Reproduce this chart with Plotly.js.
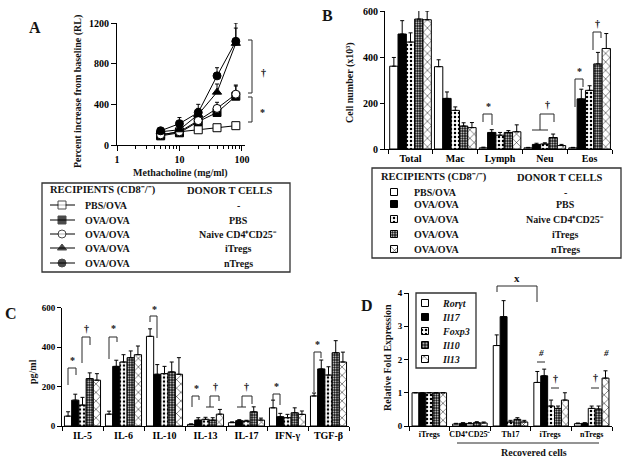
<!DOCTYPE html>
<html><head><meta charset="utf-8">
<script src="https://cdn.plot.ly/plotly-3.0.1.min.js"></script>
<style>body{margin:0;background:#fff}#c{width:629px;height:463px}</style>
</head><body><div id="c"></div><script>
const F='Liberation Serif';
// ---------- Panel A data ----------
const doses=[5,10,20,40,80];
const aPBS=[100,130,150,170,190], aPBSe=[15,15,15,15,25];
const aOVA=[90,120,230,320,480], aOVAe=[10,15,30,40,100];
const aNaive=[100,130,240,360,500], aNaiveE=[10,15,40,60,90];
const aITreg=[130,150,300,520,1000], aITregE=[15,20,60,80,150];
const aNTreg=[140,210,320,680,1020], aNTregE=[20,60,80,80,180];
const recipients=['PBS/OVA','OVA/OVA','OVA/OVA','OVA/OVA','OVA/OVA'];
const donors=['-','PBS','Naive CD4⁺CD25⁻','iTregs','nTregs'];
// ---------- Panel B data ----------
const bCats=['Total','Mac','Lymph','Neu','Eos'];
const bPBS=[360,358,5,5,5], bPBSe=[38,30,3,2,2];
const bOVA=[500,220,72,20,218], bOVAe=[58,28,12,5,42];
const bNaive=[465,168,60,22,255], bNaiveE=[40,15,12,5,20];
const bITreg=[565,100,72,50,370], bITregE=[40,14,8,15,50];
const bNTreg=[562,93,75,15,437], bNTregE=[38,22,30,5,65];
// ---------- Panel C data ----------
const cCats=['IL-5','IL-6','IL-10','IL-13','IL-17','IFN-γ','TGF-β'];
const cPBS=[50,60,454,8,17,92,152], cPBSe=[22,15,38,3,4,39,15];
const cOVA=[131,302,262,30,27,47,289], cOVAe=[30,31,49,12,5,17,45];
const cNaive=[106,324,265,34,25,42,258], cNaiveE=[39,37,37,10,4,17,42];
const cITreg=[240,346,274,30,72,67,371], cITregE=[29,34,50,12,25,25,61];
const cNTreg=[232,361,262,60,30,59,324], cNTregE=[33,44,84,24,10,17,50];
// ---------- Panel D data ----------
const dCats=['iTregs','CD4⁺CD25⁻','Th17','iTregs ','nTregs'];
const dGenes=['Rorγt','Il17','Foxp3','Il10','Il13'];
const dRor=[1,0.06,2.42,1.31,0.07], dRorE=[0,0.02,0.32,0.33,0.02];
const dIl17=[1,0.08,3.29,1.51,0.08], dIl17E=[0,0.02,0.48,0.2,0.02];
const dFoxp3=[1,0.07,0.12,0.6,0.53], dFoxp3E=[0,0.03,0.05,0.18,0.07];
const dIl10=[1,0.1,0.2,0.53,0.51], dIl10E=[0,0.03,0.05,0.07,0.09];
const dIl13=[1,0.09,0.12,0.78,1.44], dIl13E=[0,0.03,0.05,0.22,0.22];

const W=629,H=463;
const dx=(a,b)=>[a/W,b/W], dy=(a,b)=>[1-b/H,1-a/H];
const styles=[
 {color:'white'},
 {color:'black'},
 {color:'white',pattern:{shape:'.',fgcolor:'black',bgcolor:'white',size:4,solidity:0.3}},
 {color:'#111',pattern:{shape:'.',fgcolor:'white',bgcolor:'#111',size:2.5,solidity:0.3}},
 {color:'white',pattern:{shape:'x',fgcolor:'black',bgcolor:'white',size:6,solidity:0.15}}
];
const zeros=n=>Array(n).fill(0);
function bars(xa,ya,cats,series,errs,gw){
  const w=gw/5;
  return series.map((v,i)=>({type:'bar',x:cats,y:v,xaxis:xa,yaxis:ya,width:w,offset:-gw/2+i*w,
    marker:Object.assign({line:{color:'black',width:1}},styles[i]),
    error_y:{type:'data',symmetric:false,array:errs[i],arrayminus:zeros(v.length),color:'black',thickness:1,width:2},
    cliponaxis:false,hoverinfo:'skip',showlegend:false}));
}
const data=[];
// Panel A lines
const aSeries=[[aPBS,aPBSe,'square','white'],[aOVA,aOVAe,'square','black'],[aNaive,aNaiveE,'circle','white'],[aITreg,aITregE,'triangle-up','black'],[aNTreg,aNTregE,'circle','black']];
aSeries.forEach(s=>data.push({type:'scatter',mode:'lines+markers',x:doses,y:s[0],xaxis:'x',yaxis:'y',
  line:{color:'black',width:1},marker:{symbol:s[2],size:8,color:s[3],line:{color:'black',width:1}},
  error_y:{type:'data',symmetric:false,array:s[1],arrayminus:zeros(5),color:'black',thickness:1,width:2},
  cliponaxis:false,hoverinfo:'skip',showlegend:false}));
data.push(...bars('x2','y2',bCats,[bPBS,bOVA,bNaive,bITreg,bNTreg],[bPBSe,bOVAe,bNaiveE,bITregE,bNTregE],0.93));
data.push(...bars('x3','y3',cCats,[cPBS,cOVA,cNaive,cITreg,cNTreg],[cPBSe,cOVAe,cNaiveE,cITregE,cNTregE],0.88));
data.push(...bars('x4','y4',dCats,[dRor,dIl17,dFoxp3,dIl10,dIl13],[dRorE,dIl17E,dFoxp3E,dIl10E,dIl13E],0.85));

// legend swatches (layout decoration on a pixel overlay axis)
const aRows=[205,220,234,248,263], bRows=[192,204,219,234,249], dRows=[303,317,331,345,359];
aSeries.forEach((s,i)=>data.push({type:'scatter',mode:'lines+markers',x:[50,62,75],y:[aRows[i],aRows[i],aRows[i]],xaxis:'x5',yaxis:'y5',
  line:{color:'black',width:1},marker:{symbol:s[2],size:[0,8,0],color:s[3],line:{color:'black',width:1}},hoverinfo:'skip',showlegend:false,cliponaxis:false}));
function swatch(x,rows,sz){rows.forEach((r,i)=>data.push({type:'bar',x:[x],y:[sz],base:[r-sz/2],width:sz,xaxis:'x5',yaxis:'y5',
  marker:Object.assign({line:{color:'black',width:1}},styles[i]),hoverinfo:'skip',showlegend:false}));}
swatch(394,bRows,7); swatch(425,dRows,7);

const tf={family:F,size:10,color:'black',weight:'bold'};
const ax={showline:true,linecolor:'black',linewidth:1,ticks:'outside',ticklen:4,tickcolor:'black',showgrid:false,zeroline:false,tickfont:tf,fixedrange:true,tickangle:0};
const layout={width:W,height:H,margin:{l:0,r:0,t:0,b:0},paper_bgcolor:'white',plot_bgcolor:'rgba(0,0,0,0)',barmode:'overlay',showlegend:false,
 font:{family:F,color:'black'},
 xaxis:Object.assign({},ax,{type:'log',domain:dx(117,245),range:[0,2.05],dtick:1,anchor:'y',ticklen:5,minor:{ticks:'outside',ticklen:2.5,tickcolor:'black'}}),
 yaxis:Object.assign({},ax,{domain:dy(23,145),range:[0,1200],dtick:400,anchor:'x',ticklen:5}),
 xaxis2:Object.assign({},ax,{type:'category',domain:dx(385,612),range:[-0.57,4.5],anchor:'y2',tickson:'boundaries'}),
 yaxis2:Object.assign({},ax,{domain:dy(11,149),range:[0,600],dtick:200,anchor:'x2'}),
 xaxis3:Object.assign({},ax,{type:'category',domain:dx(62,349),range:[-0.5,6.5],anchor:'y3',tickson:'boundaries'}),
 yaxis3:Object.assign({},ax,{domain:dy(307.5,426),range:[0,600],dtick:200,anchor:'x3',tickfont:Object.assign({},tf,{size:9})}),
 xaxis4:Object.assign({},ax,{type:'category',domain:dx(409,612),range:[-0.5,4.5],anchor:'y4',tickson:'boundaries',tickfont:Object.assign({},tf,{size:8})}),
 yaxis4:Object.assign({},ax,{domain:dy(293,426),range:[0,4],dtick:1,anchor:'x4',tickfont:Object.assign({},tf,{size:9})}),
 xaxis5:{domain:[0,1],range:[0,W],visible:false,fixedrange:true,anchor:'y5'},
 yaxis5:{domain:[0,1],range:[H,0],visible:false,fixedrange:true,anchor:'x5'},
 shapes:[],annotations:[]
};
const L=layout.shapes, A=layout.annotations;
const path=(p)=>L.push({type:'path',xref:'x5',yref:'y5',path:p,line:{color:'rgb(40,40,40)',width:1}});
const rect=(x0,y0,x1,y1,fill)=>L.push({type:'rect',xref:'x5',yref:'y5',x0,y0,x1,y1,line:{color:'rgb(50,50,50)',width:1.3},fillcolor:fill||'rgba(255,255,255,0)',layer:'below'});
const t=(x,y,text,o={})=>A.push({xref:'x5',yref:'y5',x,y,text,showarrow:false,xanchor:o.xanchor||'center',yanchor:'middle',
  textangle:o.angle||0,font:{family:F,size:o.size||10,color:'rgb(20,20,20)',weight:'bold',style:o.style||'normal'}});
// panel letters
t(35,27,'A',{size:16}); t(327,15,'B',{size:16}); t(11,313,'C',{size:16}); t(367,305,'D',{size:16});
// axis titles
t(78,92,'Percent increase from baseline (RL)',{angle:-90});
t(180,173,'Methacholine (mg/ml)');
t(350,83,'Cell number (x10³)',{angle:-90});
t(32,372,'pg/ml',{angle:-90});
t(387,358,'Relative Fold Expression',{angle:-90});
t(534,452,'Recovered cells');
path('M457,443H599');
// Panel A brackets
path('M248,40H252V93H248'); path('M248,97H252V122H248');
t(263,72,'†',{size:10}); t(262,112,'*',{size:10});
// Panel A legend
rect(42,183,290,272);
t(48,190,'RECIPIENTS (CD8⁻/⁻)',{size:10.5,xanchor:'left'});
t(230,190,'DONOR T CELLS',{size:10.5});
aRows.forEach((r,i)=>{t(83,r,recipients[i],{xanchor:'left'});t(238,r,donors[i]);});
// Panel B brackets
path('M483,122V114H492V125'); t(488,106,'*',{size:10});
path('M532,130H548M540,130V114H554V122'); t(547,104,'†',{size:10});
path('M575,107V79H583V87'); t(579,71,'*',{size:10});
path('M593,50V32H601V38'); t(597,23,'†',{size:10});
// Panel B legend
rect(372,168,621,258);
t(379,177,'RECIPIENTS (CD8⁻/⁻)',{size:10.5,xanchor:'left'});
t(560,177,'DONOR T CELLS',{size:10.5});
bRows.forEach((r,i)=>{t(412,r,recipients[i],{xanchor:'left'});t(565,r,donors[i]);});
// Panel C brackets
path('M68,385V368H76V375'); t(72,360,'*',{size:10});
path('M82,363V337H90V345'); t(86,328,'†',{size:10});
path('M109,359V337H117V342'); t(113,328,'*',{size:10});
path('M150,322V316H157V338'); t(154,309,'*',{size:10});
path('M192,407V396H199V400'); t(196,388,'*',{size:10});
path('M206,407H214M210,407V396H219V401'); t(215,386,'†',{size:10});
path('M237,407H246M242,407V396H252V404'); t(246,386,'†',{size:10});
path('M273,400V394H280V405'); t(276,386,'*',{size:10});
path('M314,392V352H321V358'); t(317,344,'*',{size:10});
// Panel D marks
path('M497,292V286H537V302'); t(517,278,'x',{size:11});
path('M537,362H545'); t(541,353,'#',{size:9,style:'italic'});
path('M551,388H559'); t(555,378,'†',{size:10});
path('M591,388H599'); t(595,377,'†',{size:10});
t(606,353,'#',{size:9,style:'italic'});
// Panel D legend
rect(416,293,476,368,'white');
dRows.forEach((r,i)=>t(440,r,dGenes[i],{xanchor:'left',style:'italic'}));
Plotly.newPlot('c',data,layout,{staticPlot:true});
</script></body></html>
